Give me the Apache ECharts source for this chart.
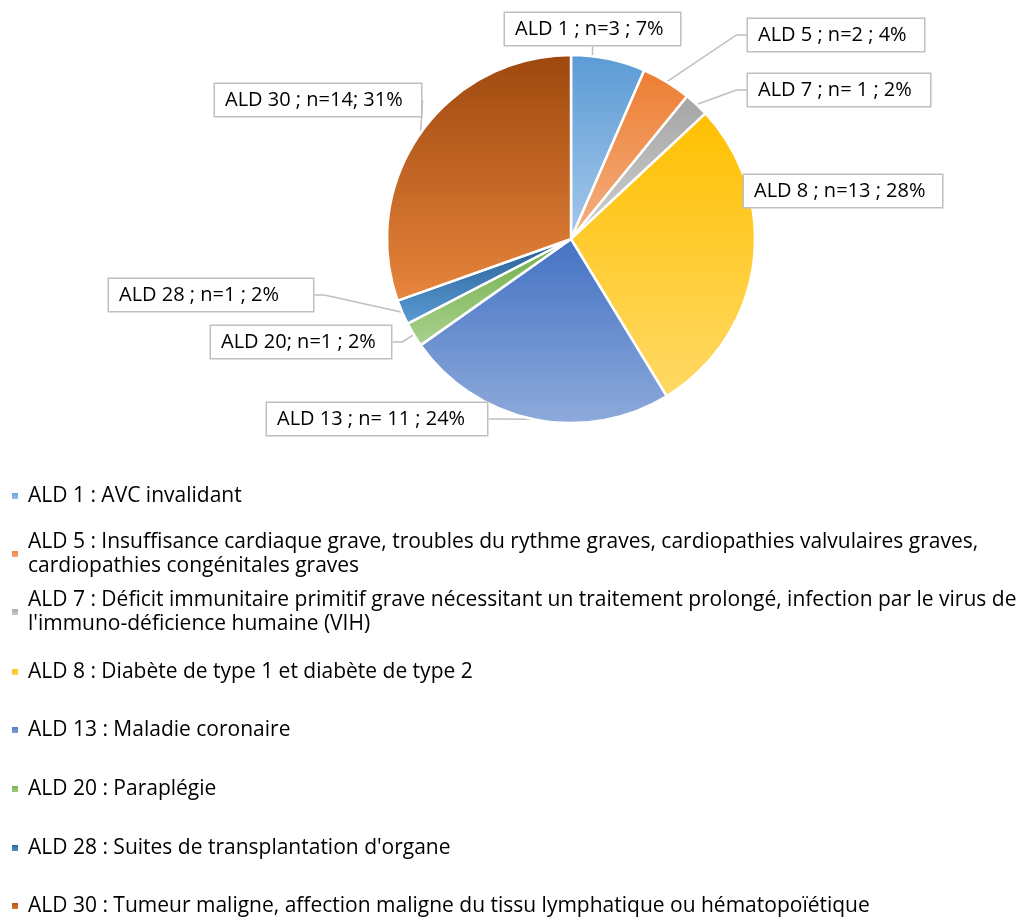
<!DOCTYPE html>
<html>
<head>
<meta charset="utf-8">
<script src="https://cdn.jsdelivr.net/npm/echarts@6/dist/echarts.min.js"></script>
<style>
  html, body { margin: 0; padding: 0; background: #fff; }
  #chart { width: 1020px; height: 917px; }
</style>
</head>
<body>
<div id="chart"></div>
<script>
// donnees
var categories = [
  'ALD 1 : AVC invalidant',
  'ALD 5 : Insuffisance cardiaque grave, troubles du rythme graves, cardiopathies valvulaires graves,\ncardiopathies congénitales graves',
  'ALD 7 : Déficit immunitaire primitif grave nécessitant un traitement prolongé, infection par le virus de\nl\'immuno-déficience humaine (VIH)',
  'ALD 8 : Diabète de type 1 et diabète de type 2',
  'ALD 13 : Maladie coronaire',
  'ALD 20 : Paraplégie',
  'ALD 28 : Suites de transplantation d\'organe',
  'ALD 30 : Tumeur maligne, affection maligne du tissu lymphatique ou hématopoïétique'
];
var counts = [3, 2, 1, 13, 11, 1, 1, 14];
var sliceLabels = [
  'ALD 1 ; n=3 ; 7%',
  'ALD 5 ; n=2 ; 4%',
  'ALD 7 ; n= 1 ; 2%',
  'ALD 8 ; n=13 ; 28%',
  'ALD 13 ; n= 11 ; 24%',
  'ALD 20; n=1 ; 2%',
  'ALD 28 ; n=1 ; 2%',
  'ALD 30 ; n=14; 31%'
];

// styles
var colorTop = ['#5b9bd5', '#ed7d31', '#a5a5a5', '#ffc000', '#4472c4', '#70ad47', '#255e91', '#9e480e'];
var colorBottom = ['#a6c8ea', '#f4b183', '#d0d0d0', '#ffd966', '#8eaadb', '#a9d18e', '#5b9bd5', '#e8853d'];
var labelBoxes = [ // x, y, largeur
  [505, 13, 175],
  [748, 19, 176],
  [748, 74, 182],
  [744, 175, 198],
  [267, 403, 220],
  [211, 326, 180],
  [109, 279, 204],
  [215, 84, 206]
];
var legendCenters = [496, 554, 612, 672, 730, 789, 848, 906];
var font = '"Open Sans", sans-serif';

var chart = echarts.init(document.getElementById('chart'));

var pieData = [];
for (var i = 0; i < counts.length; i++) {
  pieData.push({
    name: categories[i],
    value: counts[i],
    itemStyle: {
      color: new echarts.graphic.LinearGradient(0, 0, 0, 1, [
        { offset: 0, color: colorTop[i] },
        { offset: 1, color: colorBottom[i] }
      ])
    },
    label: { width: labelBoxes[i][2] - 20 }
  });
}

var legends = [];
for (var j = 0; j < categories.length; j++) {
  var twoLines = categories[j].indexOf('\n') >= 0;
  legends.push({
    orient: 'vertical',
    left: 10,
    top: legendCenters[j] - (twoLines ? 36 : 12),
    padding: 0,
    itemWidth: 8,
    itemHeight: 8,
    icon: 'rect',
    selectedMode: false,
    data: [categories[j]],
    textStyle: {
      fontFamily: font,
      fontSize: 21,
      color: '#000',
      lineHeight: 24,
      padding: twoLines ? [24, 0, 0, 4] : [0, 0, 0, 4]
    }
  });
}

chart.setOption({
  animation: false,
  legend: legends,
  series: [{
    type: 'pie',
    center: [571, 239],
    radius: 184,
    startAngle: 90,
    clockwise: true,
    data: pieData,
    itemStyle: {
      borderColor: '#fff',
      borderWidth: 2.5
    },
    label: {
      show: true,
      position: 'outside',
      formatter: function (p) { return sliceLabels[p.dataIndex]; },
      fontFamily: font,
      fontSize: 20,
      color: '#000',
      lineHeight: 22,
      align: 'center',
      backgroundColor: '#fff',
      borderColor: '#bfbfbf',
      borderWidth: 1.5,
      padding: [5, 10]
    },
    labelLine: {
      show: true,
      length: 10,
      length2: 10,
      lineStyle: { color: '#bfbfbf', width: 1.5 }
    },
    labelLayout: function (params) {
      var b = labelBoxes[params.dataIndex];
      return { x: b[0], y: b[1], align: 'left', verticalAlign: 'top' };
    }
  }]
});
</script>
</body>
</html>
